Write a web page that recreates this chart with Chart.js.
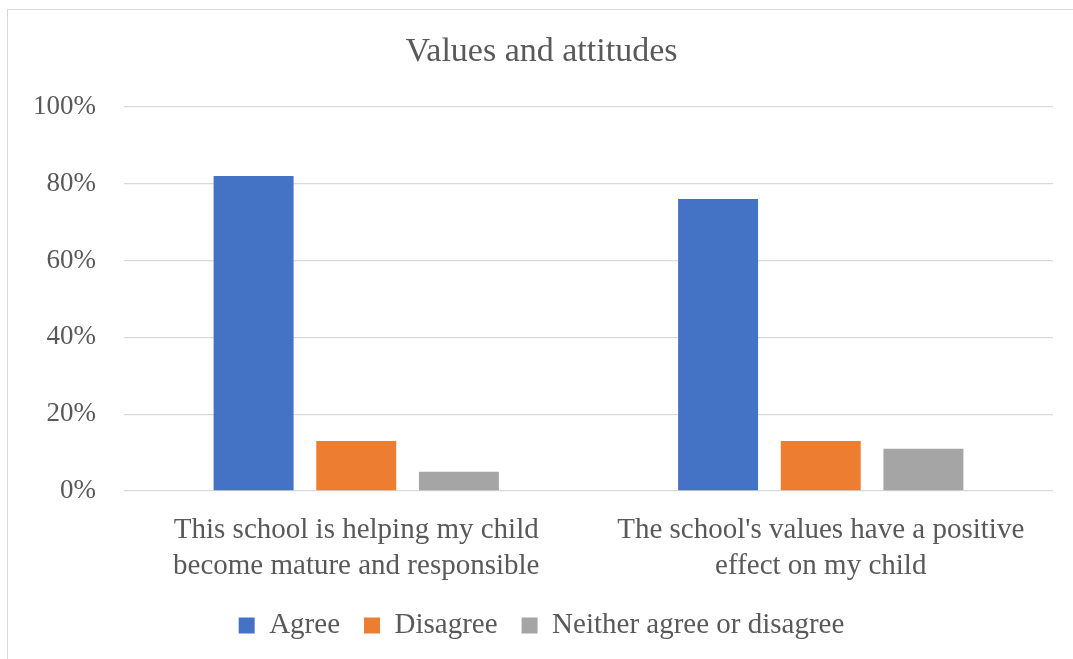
<!DOCTYPE html>
<html>
<head>
<meta charset="utf-8">
<script src="https://cdn.jsdelivr.net/npm/chart.js@4"></script>
<style>
  html, body { margin: 0; padding: 0; background: #ffffff; overflow: hidden; width: 1073px; height: 659px; }
  #wrap { position: absolute; left: 7px; top: 9px; width: 1076px; height: 662px; border: 1px solid #d9d9d9; background: #fff; }
  canvas { display: block; }
</style>
</head>
<body>
<div id="wrap"><canvas id="c" width="1076" height="662"></canvas></div>
<script>
const categories = [
  ["This school is helping my child", "become mature and responsible"],
  ["The school's values have a positive", "effect on my child"]
];
const seriesNames = ["Agree", "Disagree", "Neither agree or disagree"];
const agree = [82, 76];
const disagree = [13, 13];
const neither = [5, 11];
const yTicks = [0, 20, 40, 60, 80, 100];
const colors = ["#4472C4", "#ED7D31", "#A5A5A5"];

const FONT = "'Liberation Serif', 'Times New Roman', serif";
const TXT = "#595959";

new Chart(document.getElementById('c'), {
  type: 'bar',
  data: {
    labels: categories,
    datasets: [agree, disagree, neither].map((d, i) => ({
      label: seriesNames[i],
      data: d,
      backgroundColor: colors[i],
      borderWidth: 0,
      categoryPercentage: 0.663,
      barPercentage: 0.779
    }))
  },
  options: {
    responsive: false,
    animation: false,
    devicePixelRatio: 1,
    layout: { padding: { left: 22, right: 31, top: 0, bottom: 22 } },
    plugins: {
      title: {
        display: true,
        text: "Values and attitudes",
        color: TXT,
        font: { family: FONT, size: 34, weight: 'normal' },
        padding: { top: 22, bottom: 34 }
      },
      legend: {
        position: 'bottom',
        labels: {
          color: TXT,
          font: { family: FONT, size: 29 },
          boxWidth: 16,
          boxHeight: 16,
          padding: 24
        }
      },
      tooltip: { enabled: false }
    },
    scales: {
      x: {
        grid: { display: false },
        border: { display: false },
        ticks: {
          color: TXT,
          font: { family: FONT, size: 29, lineHeight: 1.24 },
          padding: 13,
          maxRotation: 0,
          autoSkip: false
        },
        afterFit: (s) => { s.height = 96; }
      },
      y: {
        min: 0,
        max: 100,
        afterBuildTicks: (s) => { s.ticks = yTicks.map(v => ({ value: v })); },
        grid: { color: "#d9d9d9", lineWidth: 1.3, drawTicks: false },
        border: { display: false },
        ticks: {
          color: TXT,
          font: { family: FONT, size: 27 },
          padding: 28,
          callback: (v) => v + "%"
        },
        afterFit: (s) => { s.width = 94; }
      }
    }
  }
});
</script>
</body>
</html>
